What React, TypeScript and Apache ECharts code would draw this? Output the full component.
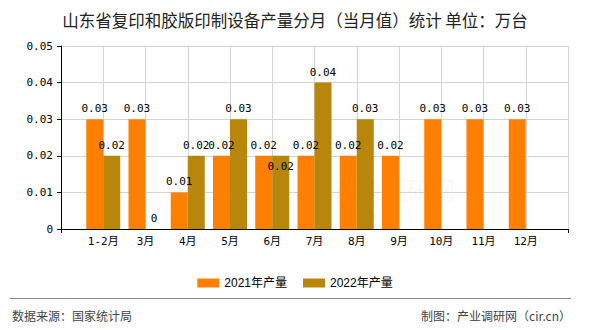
import React, { useEffect, useRef } from "react";
import * as echarts from "echarts";

const months = ["1-2月", "3月", "4月", "5月", "6月", "7月", "8月", "9月", "10月", "11月", "12月"];
const output2021 = [0.03, 0.03, 0.01, 0.02, 0.02, 0.02, 0.02, 0.02, 0.03, 0.03, 0.03];
const output2022 = [0.02, 0, 0.02, 0.03, 0.02, 0.04, 0.03, null, null, null, null];
const yTicks = [0, 0.01, 0.02, 0.03, 0.04, 0.05];
const seriesNames = ["2021年产量", "2022年产量"];
const title = "山东省复印和胶版印制设备产量分月（当月值）统计 单位：万台";
const sourceText = "数据来源：国家统计局";
const makerText = "制图：产业调研网（cir.cn）";

const MONO = "'DejaVu Sans Mono', 'Noto Sans CJK SC', monospace";
const SANS = "'Liberation Sans', 'Noto Sans CJK SC', sans-serif";
const CJK = "'Noto Sans CJK SC', sans-serif";

export default function App() {
  const ref = useRef<HTMLDivElement>(null);
  useEffect(() => {
    if (!ref.current) return;
    const chart = echarts.init(ref.current, null, { renderer: "svg" });
    // pad one empty slot on each side so ticks sit between bar pairs
    const cats = ["", ...months, ""];
    const pad = (arr: (number | null)[]) => [null, ...arr, null];
    const d2022: any[] = pad(output2022).map((v, i) =>
      i === 5 ? { value: v, label: { offset: [0, 21] } } : v
    );
    const labelStyle = {
      show: true,
      position: "top",
      distance: 5,
      fontFamily: MONO,
      fontSize: 11,
      color: "#000",
      formatter: (p: any) => (p.value === null || p.value === undefined ? "" : String(p.value)),
    };
    chart.setOption({
      animation: false,
      title: {
        text: title,
        left: "center",
        top: 7,
        textStyle: { fontFamily: CJK, fontSize: 16.5, fontWeight: "normal", color: "#222" },
      },
      grid: { left: 61, right: 22, top: 46, bottom: 101, containLabel: false },
      legend: {
        data: seriesNames,
        top: 272,
        left: "center",
        itemWidth: 22,
        itemHeight: 9,
        itemGap: 16,
        icon: "rect",
        textStyle: { fontFamily: SANS, fontSize: 12, color: "#000" },
      },
      xAxis: {
        type: "category",
        data: cats,
        boundaryGap: false,
        axisLine: { lineStyle: { color: "#000", width: 1 } },
        axisTick: {
          show: true,
          length: 4,
          interval: (i: number) => i === 0 || i === cats.length - 1,
          lineStyle: { color: "#000" },
        },
        axisLabel: { fontFamily: MONO, fontSize: 11, color: "#000", margin: 7, interval: 0 },
        splitLine: { show: true, lineStyle: { color: "#d4d4d4", width: 1 } },
      },
      yAxis: {
        type: "value",
        min: yTicks[0],
        max: yTicks[yTicks.length - 1],
        interval: 0.01,
        axisLine: { show: true, lineStyle: { color: "#000", width: 1 } },
        axisTick: { show: true, length: 4, lineStyle: { color: "#000" } },
        axisLabel: { fontFamily: MONO, fontSize: 11, color: "#000", margin: 8 },
        splitLine: { show: true, lineStyle: { color: "#d4d4d4", width: 1 } },
      },
      series: [
        {
          name: seriesNames[0],
          type: "bar",
          data: pad(output2021),
          barWidth: 17,
          barGap: "0%",
          itemStyle: { color: "#FF8000" },
          label: labelStyle,
        },
        {
          name: seriesNames[1],
          type: "bar",
          data: d2022,
          barWidth: 17,
          barGap: "0%",
          itemStyle: { color: "#B8860B" },
          label: labelStyle,
        },
      ],
      graphic: [
        {
          type: "text",
          left: 335,
          top: 176,
          z: -1,
          silent: true,
          style: { text: "产业调研网", fontFamily: CJK, fontSize: 24, fill: "rgba(230,120,100,0.07)" },
        },
        {
          type: "text",
          left: 347,
          top: 210,
          z: -1,
          silent: true,
          style: { text: "www.cir.cn", fontFamily: MONO, fontSize: 11, fill: "rgba(200,120,110,0.08)" },
        },
        {
          type: "line",
          shape: { x1: 10, y1: 298.5, x2: 571, y2: 298.5 },
          style: { stroke: "#888", lineWidth: 1 },
        },
        {
          type: "text",
          left: 12,
          top: 309,
          style: { text: sourceText, fontFamily: CJK, fontSize: 12, fill: "#444" },
        },
        {
          type: "text",
          right: 19,
          top: 309,
          style: { text: makerText, fontFamily: CJK, fontSize: 12, fill: "#444" },
        },
      ],
    });
    return () => chart.dispose();
  }, []);
  return <div ref={ref} style={{ width: 590, height: 330, margin: -8 }} />;
}
